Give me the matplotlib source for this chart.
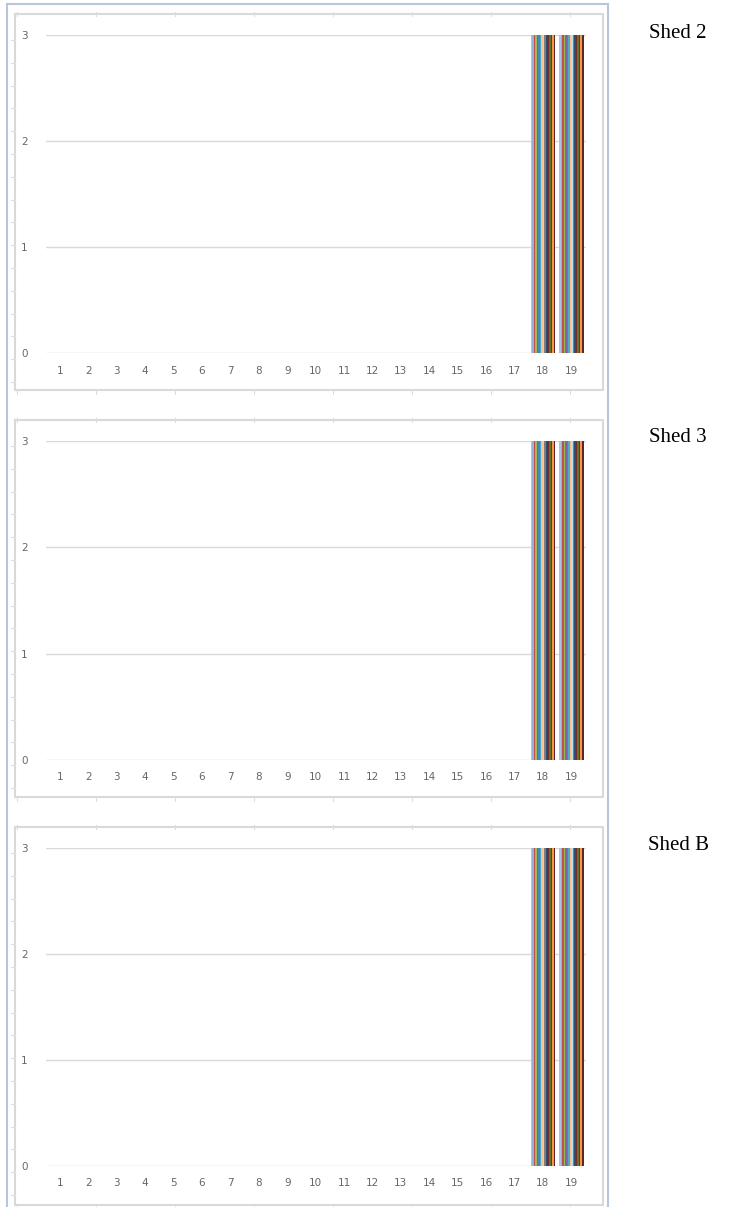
import matplotlib
matplotlib.use("Agg")
import matplotlib.pyplot as plt
import numpy as np

# ---------------- data ----------------
categories = [str(i) for i in range(1, 20)]
y_ticks = [0, 1, 2, 3]
panel_titles = ["Shed 2", "Shed 3", "Shed B"]

# every series in each shed: 0 for categories 1-17, 3 for categories 18 and 19
shed2_values = [0, 0, 0, 0, 0, 0, 0, 0, 0, 0, 0, 0, 0, 0, 0, 0, 0, 3, 3]
shed3_values = [0, 0, 0, 0, 0, 0, 0, 0, 0, 0, 0, 0, 0, 0, 0, 0, 0, 3, 3]
shedB_values = [0, 0, 0, 0, 0, 0, 0, 0, 0, 0, 0, 0, 0, 0, 0, 0, 0, 3, 3]
series_names = ["Series %d" % i for i in range(1, 17)]

series_colors = ['#A9C4E4', '#95B3D7', '#C0504D', '#9BBB59', '#8064A2', '#4F81BD',
                 '#4BACC6', '#FAC090', '#B7DEE8', '#7F7F7F', '#2C4D75', '#772C2A',
                 '#5F7530', '#4D3B62', '#F79646', '#632523']

# ---------------- layout (pixels) ----------------
W, H = 733, 1207
fig = plt.figure(figsize=(W / 100, H / 100), dpi=100)

bg = fig.add_axes([0, 0, 1, 1], zorder=0)
bg.set_xlim(0, W)
bg.set_ylim(H, 0)
bg.axis('off')

page_col = '#B8C6DB'
bg.plot([7, 7], [4, H], color=page_col, lw=1.5)
bg.plot([7, 608], [4, 4], color=page_col, lw=1.5)
bg.plot([608, 608], [4, H], color=page_col, lw=1.5)

border_col = '#D9D9D9'
# chart area boxes: (top, bottom, y3, y0)
panels = [
    (14, 390, 35, 353),
    (420, 797, 441, 760),
    (827, 1205, 848, 1166),
]
plot_left, plot_right = 45.8, 585.5
values_list = [shed2_values, shed3_values, shedB_values]
label_y = [33, 438, 846]

for (top, bot, y3, y0), vals, title, ly in zip(panels, values_list, panel_titles, label_y):
    # chart area border
    bg.plot([15, 603, 603, 15, 15], [top, top, bot, bot, top], color=border_col, lw=1.5)
    # little ticks on border
    for x in np.arange(17, 603, 79):
        bg.plot([x, x], [top - 2, top + 2], color='#DDDDDD', lw=0.8)
        bg.plot([x, x], [bot, bot + 4], color='#DDDDDD', lw=0.8)
    for y in np.arange(top + 26, bot, 22.8):
        bg.plot([11, 15], [y, y], color='#DDDDDD', lw=0.8)

    ax = fig.add_axes([plot_left / W, 1 - y0 / H,
                       (plot_right - plot_left) / W, (y0 - y3) / H], zorder=2)
    ax.set_facecolor('none')
    n = len(series_names)
    group_w = 0.86
    bw = group_w / n
    x = np.arange(len(categories))
    for i, (name, c) in enumerate(zip(series_names, series_colors)):
        ax.bar(x - group_w / 2 + bw * (i + 0.5), vals, width=bw, color=c,
               linewidth=0, label=name, zorder=3)
    ax.set_xlim(-0.5, len(categories) - 0.5)
    ax.set_ylim(0, 3)
    ax.set_yticks(y_ticks)
    ax.set_yticklabels([str(t) for t in y_ticks])
    ax.set_xticks(x)
    ax.set_xticklabels(categories)
    ax.grid(axis='y', color='#D9D9D9', lw=1, zorder=0)
    for s in ax.spines.values():
        s.set_visible(False)
    ax.tick_params(axis='both', length=0, labelsize=7.5, labelcolor='#666666')
    ax.tick_params(axis='y', pad=13)
    ax.tick_params(axis='x', pad=9)

    bg.text(678, ly, title, fontsize=15, family='Liberation Serif',
            ha='center', va='center', color='black')

fig.savefig('out.png', dpi=100)
